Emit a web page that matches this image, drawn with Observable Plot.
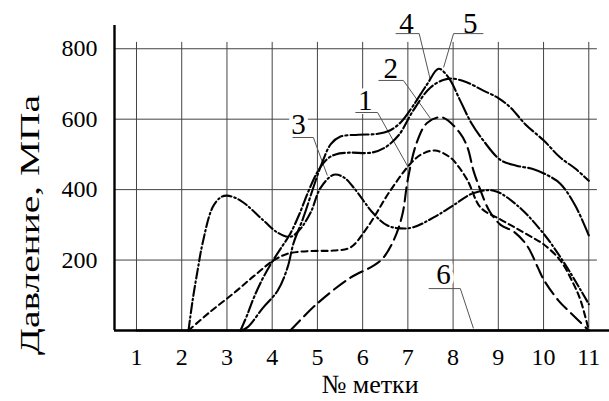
<!DOCTYPE html>
<html><head><meta charset="utf-8">
<script src="https://cdn.jsdelivr.net/npm/d3@7"></script>
<script src="https://cdn.jsdelivr.net/npm/@observablehq/plot@0.6"></script>
<style>
body{margin:0;background:#fff}
svg, svg text { font-family: "Liberation Serif", "Times New Roman", Times, serif !important; }
</style>
</head><body><div id="chart"></div>
<script>
// ---- data ----
const xTicks = [1,2,3,4,5,6,7,8,9,10,11];
const yTicks = [200,400,600,800];
const xTitle = "№ метки";
const yTitle = "Давление, МПа";

const x1 = [2.15, 2.6, 3.14, 3.6, 4.03, 4.34, 4.63, 5.0, 5.36, 5.73, 6.1, 6.61, 7.06, 7.3, 7.6, 7.94, 8.12, 8.32, 8.61, 9.05, 9.4, 9.78, 10.0, 10.37, 10.66, 10.82, 11];
const y1 = [0, 50, 105, 155, 199, 218, 224, 226, 227, 236, 292, 397, 474, 500, 511, 491, 465, 426, 349, 315, 290, 262, 245, 199, 133, 85, 0];

const x2 = [4.4, 5.0, 5.73, 6.24, 6.46, 6.7, 6.88, 7.0, 7.2, 7.43, 7.76, 8.16, 8.32, 8.45, 8.6, 8.8, 9.05, 9.35, 9.64, 9.87, 10.0, 10.33, 10.6, 11];
const y2 = [0, 77, 150, 184, 207, 260, 330, 430, 535, 590, 605, 559, 519, 454, 400, 340, 300, 280, 240, 180, 145, 85, 50, 0];

const x3 = [2.15, 2.24, 2.35, 2.46, 2.68, 2.86, 3.0, 3.3, 3.81, 4.12, 4.4, 4.6, 4.85, 5.07, 5.36, 5.58, 5.8, 6.24, 6.55, 6.84, 7.12, 7.57, 8.0, 8.43, 8.9, 9.42, 10.0, 10.44, 10.82, 11];
const y3 = [0, 85, 170, 247, 349, 378, 383, 369, 312, 278, 266, 285, 335, 405, 442, 435, 406, 332, 298, 290, 293, 321, 355, 389, 397, 355, 275, 195, 115, 75];

const x4 = [3.3, 3.45, 3.6, 3.8, 4.0, 4.2, 4.4, 4.6, 4.8, 5.0, 5.2, 5.4, 5.7, 6.2, 6.5, 6.8, 7.12, 7.5, 7.8, 8.0, 8.3, 8.67, 9.0, 9.27, 9.6, 10.0, 10.37, 10.7, 11];
const y4 = [0, 45, 95, 150, 195, 235, 275, 330, 395, 450, 485, 500, 505, 505, 520, 555, 625, 690, 712, 715, 705, 681, 660, 633, 585, 540, 491, 460, 425];

const x5 = [3.3, 3.45, 3.8, 4.12, 4.34, 4.47, 4.69, 4.91, 5.1, 5.3, 5.5, 5.9, 6.3, 6.6, 6.85, 7.1, 7.43, 7.68, 7.9, 8.16, 8.4, 8.67, 9.05, 9.4, 9.78, 10.1, 10.37, 10.7, 11];
const y5 = [0, 9, 65, 113, 179, 247, 321, 406, 475, 530, 550, 556, 558, 568, 592, 635, 700, 743, 718, 652, 590, 539, 484, 468, 458, 440, 417, 355, 270];

const x6 = [1, 11];
const y6 = [0, 0];

// annotations (data units)
const labelNames = ["1","2","3","4","5","6"];
const labelX = [6.06, 6.62, 4.58, 6.97, 8.38, 7.79];
const labelY = [625, 716, 557, 846, 846, 133];
const ulX1 = [5.84, 6.35, 4.45, 6.73, 8.01, 7.46];
const ulX2 = [6.33, 6.9, 4.91, 7.25, 8.67, 8.16];
const ulY = [619, 710, 548, 843, 843, 119];
const ldX1 = [6.33, 6.9, 4.91, 7.25, 8.01, 8.16];
const ldY1 = [619, 710, 548, 843, 843, 119];
const ldX2 = [7.01, 7.5, 5.22, 7.5, 7.79, 8.45];
const ldY2 = [463, 602, 440, 710, 747, 6];

// ---- build ----
const FONT = "Liberation Serif, Times New Roman, serif";
const series = [[x1,y1],[x2,y2],[x3,y3],[x4,y4],[x5,y5],[x6,y6]]
  .map(([xs,ys]) => xs.map((x,i) => ({x, y: ys[i]})));
const dashes = ["6,4", "14,6", "10,3,1.5,3", "12,3,2,3", "18,3,2,3", null];

const xMin = 0.5136, xMax = 11.458, yMax = 866;
const idx = labelNames.map((_, i) => i);

const lineMarks = series.map((data, i) => Plot.line(data, {
  x: "x", y: "y", curve: "catmull-rom",
  stroke: "black", strokeWidth: 2.1,
  strokeDasharray: dashes[i] || undefined
}));

const chart = Plot.plot({
  width: 609, height: 401,
  marginLeft: 114, marginRight: 0, marginTop: 25, marginBottom: 71,
  x: {domain: [xMin, xMax]},
  y: {domain: [0, yMax]},
  style: {fontFamily: FONT, fontSize: "24px", background: "white", color: "black"},
  marks: [
    Plot.ruleX(xTicks, {x: d => d, y1: 0, y2: 818, stroke: "#444", strokeWidth: 1}),
    Plot.ruleY(yTicks, {y: d => d, x1: xMin, x2: 11.19, stroke: "#444", strokeWidth: 1}),
    Plot.text(idx, {x: i => labelX[i], y: i => labelY[i], text: i => labelNames[i],
      fontSize: 29, fontFamily: FONT, lineAnchor: "bottom", fill: "black", stroke: "white", strokeWidth: 8, paintOrder: "stroke"}),
    Plot.link(idx, {x1: i => ulX1[i], x2: i => ulX2[i], y1: i => ulY[i], y2: i => ulY[i], stroke: "#555", strokeWidth: 1}),
    Plot.link(idx, {x1: i => ldX1[i], x2: i => ldX2[i], y1: i => ldY1[i], y2: i => ldY2[i], stroke: "#555", strokeWidth: 1}),
    ...lineMarks,
    Plot.ruleY([0], {x1: xMin, x2: xMax, stroke: "black", strokeWidth: 2.6}),
    Plot.ruleX([xMin], {y1: 0, y2: yMax, stroke: "black", strokeWidth: 2.4}),
    Plot.axisX({ticks: xTicks, tickSize: 0, tickPadding: 17, fontSize: 24, fontFamily: FONT, label: null}),
    Plot.axisY({ticks: yTicks, tickSize: 0, tickPadding: 17, fontSize: 24, fontFamily: FONT, label: null})
  ]
});

const svg = d3.select(chart);
svg.append("text")
  .attr("transform", "translate(39,225) rotate(-90)")
  .attr("text-anchor", "middle")
  .attr("font-family", FONT)
  .attr("font-size", 27)
  .attr("textLength", 260)
  .attr("lengthAdjust", "spacingAndGlyphs")
  .attr("fill", "black")
  .text(yTitle);
svg.append("text")
  .attr("x", 370).attr("y", 393)
  .attr("text-anchor", "middle")
  .attr("font-family", FONT)
  .attr("font-size", 26)
  .attr("fill", "black")
  .text(xTitle);

document.getElementById("chart").appendChild(chart);
</script>
</body></html>
